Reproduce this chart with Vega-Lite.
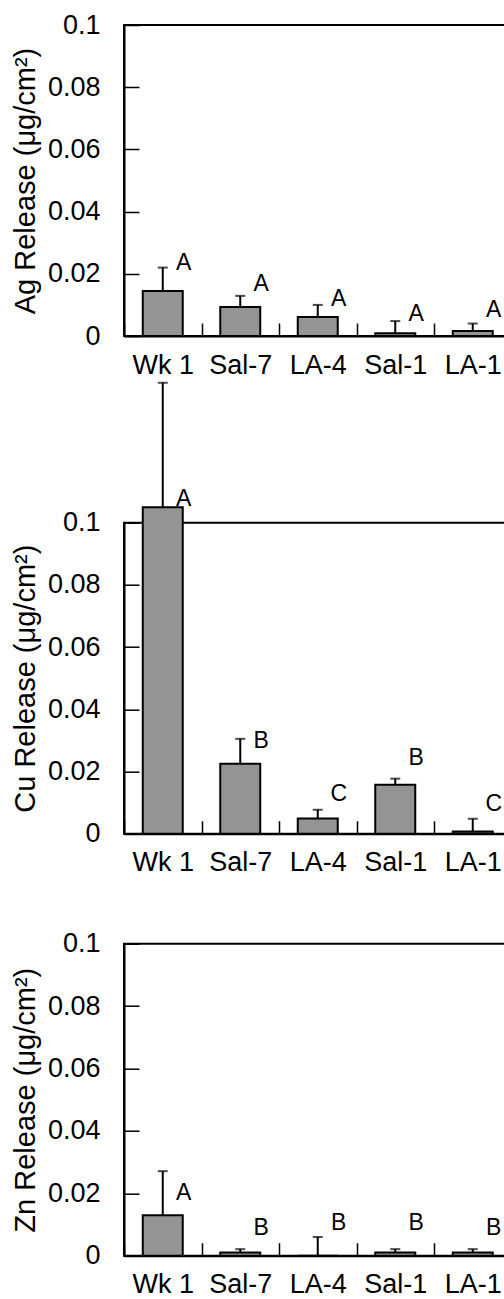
{
  "$schema": "https://vega.github.io/schema/vega-lite/v6.json",
  "background": "white",
  "padding": {"left": 10, "top": 10, "right": 0, "bottom": 5},
  "config": {
    "font": "Liberation Sans",
    "view": {"stroke": "black", "strokeWidth": 2},
    "axis": {
      "grid": false,
      "domainColor": "black",
      "domainWidth": 2,
      "tickColor": "black",
      "tickWidth": 1.5,
      "labelColor": "black",
      "titleColor": "black",
      "labelFont": "Liberation Sans",
      "titleFont": "Liberation Sans",
      "labelFontSize": 27,
      "titleFontSize": 29,
      "titleFontWeight": "normal"
    }
  },
  "datasets": {
    "rel": [
      {"metal": "Ag", "treatment": "Wk 1", "mean": 0.0145, "upper": 0.022, "letter": "A", "letter_at": 0.0235},
      {"metal": "Ag", "treatment": "Sal-7", "mean": 0.0093, "upper": 0.0129, "letter": "A", "letter_at": 0.0167},
      {"metal": "Ag", "treatment": "LA-4", "mean": 0.0061, "upper": 0.0100, "letter": "A", "letter_at": 0.0119},
      {"metal": "Ag", "treatment": "Sal-1", "mean": 0.0009, "upper": 0.0048, "letter": "A", "letter_at": 0.0071},
      {"metal": "Ag", "treatment": "LA-1", "mean": 0.0016, "upper": 0.0040, "letter": "A", "letter_at": 0.0084},
      {"metal": "Cu", "treatment": "Wk 1", "mean": 0.105, "upper": 0.145, "letter": "A", "letter_at": 0.1077},
      {"metal": "Cu", "treatment": "Sal-7", "mean": 0.0225, "upper": 0.0305, "letter": "B", "letter_at": 0.0299},
      {"metal": "Cu", "treatment": "LA-4", "mean": 0.0049, "upper": 0.0077, "letter": "C", "letter_at": 0.0129},
      {"metal": "Cu", "treatment": "Sal-1", "mean": 0.0157, "upper": 0.0177, "letter": "B", "letter_at": 0.0244},
      {"metal": "Cu", "treatment": "LA-1", "mean": 0.0007, "upper": 0.0048, "letter": "C", "letter_at": 0.0096},
      {"metal": "Zn", "treatment": "Wk 1", "mean": 0.013, "upper": 0.0271, "letter": "A", "letter_at": 0.0200},
      {"metal": "Zn", "treatment": "Sal-7", "mean": 0.001, "upper": 0.0021, "letter": "B", "letter_at": 0.0089},
      {"metal": "Zn", "treatment": "LA-4", "mean": 0.0, "upper": 0.006, "letter": "B", "letter_at": 0.0106},
      {"metal": "Zn", "treatment": "Sal-1", "mean": 0.001, "upper": 0.0021, "letter": "B", "letter_at": 0.0106},
      {"metal": "Zn", "treatment": "LA-1", "mean": 0.001, "upper": 0.0021, "letter": "B", "letter_at": 0.0089}
    ]
  },
  "data": {"name": "rel"},
  "bounds": "flush",
  "spacing": 186.7,
  "vconcat": [
    {
      "width": 387.5,
      "height": 311,
      "transform": [{"filter": "datum.metal === 'Ag'"}],
      "encoding": {
        "x": {"field": "treatment", "type": "nominal", "sort": null,
          "scale": {"paddingInner": 0, "paddingOuter": 0},
          "axis": {"title": null, "labelAngle": 0, "tickBand": "extent", "tickSize": -13, "labelPadding": 29}}
      },
      "layer": [
        {"mark": {"type": "bar", "fill": "#949494", "stroke": "black", "strokeWidth": 2, "width": {"band": 0.516}},
         "encoding": {"y": {"field": "mean", "type": "quantitative",
           "scale": {"domain": [0, 0.1], "nice": false},
           "axis": {"title": "Ag Release (μg/cm²)", "values": [0, 0.02, 0.04, 0.06, 0.08, 0.1], "format": "~g", "tickSize": -15, "labelPadding": 39, "titlePadding": 7}}}},
        {"mark": {"type": "rule", "strokeWidth": 2, "color": "black"},
         "encoding": {"y": {"field": "mean", "type": "quantitative"}, "y2": {"field": "upper"}}},
        {"mark": {"type": "tick", "thickness": 2, "size": 10, "color": "black"},
         "encoding": {"y": {"field": "upper", "type": "quantitative"}}},
        {"mark": {"type": "text", "dx": 21, "baseline": "middle", "fontSize": 23, "font": "Liberation Sans", "color": "black"},
         "encoding": {"y": {"field": "letter_at", "type": "quantitative"}, "text": {"field": "letter"}}}
      ]
    },
    {
      "bounds": "flush",
      "spacing": 110,
      "vconcat": [
        {
          "width": 387.5,
          "height": 311,
          "transform": [{"filter": "datum.metal === 'Cu'"}],
          "encoding": {
            "x": {"field": "treatment", "type": "nominal", "sort": null,
              "scale": {"paddingInner": 0, "paddingOuter": 0},
              "axis": {"title": null, "labelAngle": 0, "tickBand": "extent", "tickSize": -13, "labelPadding": 29}}
          },
          "layer": [
            {"mark": {"type": "bar", "fill": "#949494", "stroke": "black", "strokeWidth": 2, "width": {"band": 0.516}},
             "encoding": {"y": {"field": "mean", "type": "quantitative",
               "scale": {"domain": [0, 0.1], "nice": false},
               "axis": {"title": "Cu Release (μg/cm²)", "values": [0, 0.02, 0.04, 0.06, 0.08, 0.1], "format": "~g", "tickSize": -15, "labelPadding": 39, "titlePadding": 7}}}},
            {"mark": {"type": "rule", "strokeWidth": 2, "color": "black"},
             "encoding": {"y": {"field": "mean", "type": "quantitative"}, "y2": {"field": "upper"}}},
            {"mark": {"type": "tick", "thickness": 2, "size": 10, "color": "black"},
             "encoding": {"y": {"field": "upper", "type": "quantitative"}}},
            {"mark": {"type": "text", "dx": 21, "baseline": "middle", "fontSize": 23, "font": "Liberation Sans", "color": "black"},
             "encoding": {"y": {"field": "letter_at", "type": "quantitative"}, "text": {"field": "letter"}}}
          ]
        },
        {
          "width": 387.5,
          "height": 312,
          "transform": [{"filter": "datum.metal === 'Zn'"}],
          "encoding": {
            "x": {"field": "treatment", "type": "nominal", "sort": null,
              "scale": {"paddingInner": 0, "paddingOuter": 0},
              "axis": {"title": null, "labelAngle": 0, "tickBand": "extent", "tickSize": -13, "labelPadding": 29}}
          },
          "layer": [
            {"mark": {"type": "bar", "fill": "#949494", "stroke": "black", "strokeWidth": 2, "width": {"band": 0.516}},
             "encoding": {"y": {"field": "mean", "type": "quantitative",
               "scale": {"domain": [0, 0.1], "nice": false},
               "axis": {"title": "Zn Release (μg/cm²)", "values": [0, 0.02, 0.04, 0.06, 0.08, 0.1], "format": "~g", "tickSize": -15, "labelPadding": 39, "titlePadding": 7}}}},
            {"mark": {"type": "rule", "strokeWidth": 2, "color": "black"},
             "encoding": {"y": {"field": "mean", "type": "quantitative"}, "y2": {"field": "upper"}}},
            {"mark": {"type": "tick", "thickness": 2, "size": 10, "color": "black"},
             "encoding": {"y": {"field": "upper", "type": "quantitative"}}},
            {"mark": {"type": "text", "dx": 21, "baseline": "middle", "fontSize": 23, "font": "Liberation Sans", "color": "black"},
             "encoding": {"y": {"field": "letter_at", "type": "quantitative"}, "text": {"field": "letter"}}}
          ]
        }
      ]
    }
  ]
}
